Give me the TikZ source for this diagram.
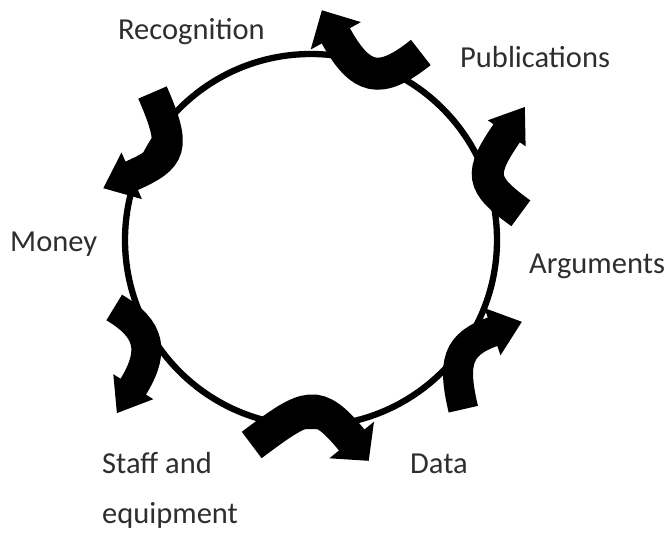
\documentclass[tikz,border=0pt]{standalone}
\usepackage{fontspec}
\setmainfont{Carlito}
\begin{document}
\begin{tikzpicture}[x=1pt,y=-1pt,
  lbl/.style={anchor=base west,inner sep=0pt,text=black!82,font=\fontsize{30.5}{36}\selectfont},
  ring/.style={draw=black,line width=6.3pt},
  shaft/.style={draw=black,line cap=butt},
  head/.style={fill=black,draw=none}]
\useasboundingbox (0,0) rectangle (671,534);
\fill[white] (0,0) rectangle (671,534);
% cycle circle
\node[circle,ring,minimum size=372pt,inner sep=0pt] (cyc) at (311,240) {};
% arrow 1 (top)
\draw[shaft,line width=32pt] (420.8,52.5) .. controls (380.2,84.7) and (360.8,81.6) .. (334.8,34.0);
\fill[head] (360.9,22.1) -- (321.9,10.3) -- (310.7,49.5) -- cycle;
% arrow 2 (upper right)
\draw[shaft,line width=32pt] (520.8,213.3) .. controls (480.3,183.8) and (478.3,174.5) .. (507.8,131.6);
\fill[head] (525.6,146.3) -- (524.8,107.0) -- (487.8,120.3) -- cycle;
% arrow 3 (lower right)
\draw[shaft,line width=30pt] (463.3,409.2) .. controls (452.3,362.6) and (456.6,343.9) .. (494.4,331.1);
\fill[head] (500.5,355.3) -- (521.8,321.8) -- (484.5,308.1) -- cycle;
% arrow 4 (bottom)
\draw[shaft,line width=33pt] (251.7,445) .. controls (307.7,403) and (317,397.6) .. (353,441.5);
\fill[head] (329.4,458.3) -- (368.7,460.8) -- (374,421.7) -- cycle;
% arrow 5 (lower left)
\draw[shaft,line width=30pt] (114.2,307.5) .. controls (150.3,328.9) and (155.6,351) .. (132.2,388.4);
\fill[head] (113.3,374.2) -- (116.9,413.1) -- (153.3,399.2) -- cycle;
% arrow 6 (upper left)
\draw[shaft,line width=31pt] (152.5,92.5) .. controls (176.5,147.7) and (172.9,157.8) .. (129.9,176.6);
\fill[head] (121.5,152.5) -- (103.3,188.2) -- (141.9,199.1) -- cycle;
% labels
\node[lbl] (recog) at (118,40) {Recognition};
\node[lbl] (pub) at (460,68) {Publications};
\node[lbl] (arg) at (529,273) {Arguments};
\node[lbl] (money) at (10,252) {Money};
\node[lbl] (data) at (410,473) {Data};
\node[lbl] (staff) at (102,473) {Staff and};
\node[lbl] (equip) at (102,523) {equipment};
\end{tikzpicture}
\end{document}
